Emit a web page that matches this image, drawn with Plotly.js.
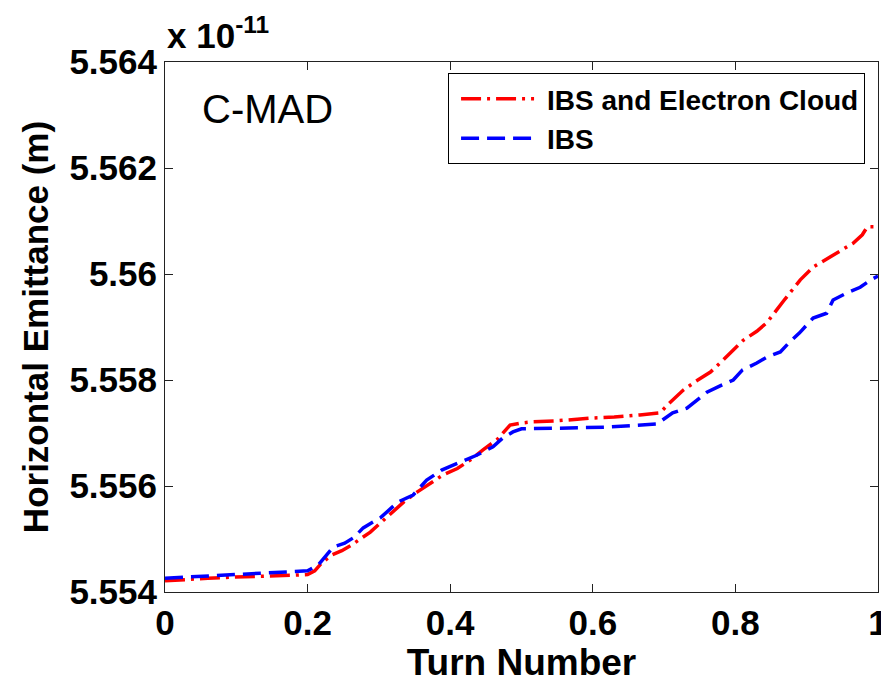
<!DOCTYPE html>
<html>
<head>
<meta charset="utf-8">
<script src="https://cdn.plot.ly/plotly-3.0.1.min.js"></script>
<style>html,body{margin:0;padding:0;background:#fff;}#chart{width:881px;height:687px;}</style>
</head>
<body>
<div id="chart"></div>
<script>
// Turn number (normalised) and horizontal emittance in units of 1e-11 m
const redName = "IBS and Electron Cloud";
const redX = [0, 0.03, 0.06, 0.094, 0.13, 0.16, 0.187, 0.2, 0.21, 0.22, 0.234, 0.248, 0.262, 0.276, 0.288, 0.302, 0.318, 0.335, 0.354, 0.376, 0.39, 0.41, 0.428, 0.446, 0.466, 0.484, 0.5, 0.516, 0.55, 0.596, 0.63, 0.666, 0.694, 0.708, 0.727, 0.745, 0.765, 0.783, 0.811, 0.83, 0.844, 0.868, 0.891, 0.909, 0.93, 0.95, 0.965, 0.978, 0.985, 1.0];
const redY = [5.55421, 5.55424, 5.55426, 5.55428, 5.55429, 5.55430, 5.55432, 5.55433, 5.55440, 5.55455, 5.55470, 5.55478, 5.55489, 5.55502, 5.55513, 5.55530, 5.55550, 5.55570, 5.55589, 5.55608, 5.55621, 5.55633, 5.55649, 5.55668, 5.55688, 5.55715, 5.55719, 5.55721, 5.55723, 5.55728, 5.55730, 5.55734, 5.55738, 5.55757, 5.55781, 5.55798, 5.55815, 5.55838, 5.55875, 5.55892, 5.55908, 5.55950, 5.55989, 5.56013, 5.56030, 5.56045, 5.56058, 5.56074, 5.56089, 5.56089];
const blueName = "IBS";
const blueX = [0, 0.03, 0.06, 0.094, 0.13, 0.16, 0.178, 0.2, 0.215, 0.229, 0.236, 0.252, 0.265, 0.278, 0.302, 0.327, 0.348, 0.367, 0.388, 0.414, 0.437, 0.46, 0.474, 0.488, 0.5, 0.55, 0.62, 0.69, 0.712, 0.732, 0.76, 0.78, 0.797, 0.81, 0.83, 0.844, 0.863, 0.875, 0.89, 0.909, 0.928, 0.937, 0.956, 0.975, 0.99, 1.0];
const blueY = [5.55426, 5.55428, 5.55430, 5.55432, 5.55434, 5.55436, 5.55438, 5.55440, 5.55451, 5.55475, 5.55485, 5.55492, 5.55503, 5.55521, 5.55540, 5.55570, 5.55583, 5.55611, 5.55630, 5.55645, 5.55658, 5.55674, 5.55691, 5.55702, 5.55708, 5.55709, 5.55711, 5.55717, 5.55738, 5.55747, 5.55777, 5.55790, 5.55800, 5.55819, 5.55832, 5.55843, 5.55853, 5.55870, 5.55889, 5.55917, 5.55926, 5.55951, 5.55964, 5.55975, 5.55989, 5.55996];
const xTickVals = [0, 0.2, 0.4, 0.6, 0.8, 1];
const xTickText = ["0", "0.2", "0.4", "0.6", "0.8", "1"];
const yTickVals = [5.554, 5.556, 5.558, 5.56, 5.562, 5.564];
const yTickText = ["5.554", "5.556", "5.558", "5.56", "5.562", "5.564"];
const xTitle = "Turn Number";
const yTitle = "Horizontal Emittance (m)";
const scaleLabel = "x 10<sup>-11</sup>";
const panelLabel = "C-MAD";

const FONT = "Liberation Sans, Arial, Helvetica, sans-serif";
const traces = [
  {x: redX, y: redY, name: redName, type: "scatter", mode: "lines",
   line: {color: "#ff0000", width: 3.5, dash: "20px,6px,3px,6px"}},
  {x: blueX, y: blueY, name: blueName, type: "scatter", mode: "lines",
   line: {color: "#0000ff", width: 3.5, dash: "18px,8px"}}
];
const axisCommon = {
  showline: true, linecolor: "#222", linewidth: 1, mirror: "ticks",
  ticks: "inside", ticklen: 8, tickwidth: 1, tickcolor: "#222",
  showgrid: false, zeroline: false, ticklabeloverflow: "allow",
  tickfont: {family: FONT, size: 35, weight: "bold", color: "#000"}
};
const layout = {
  width: 881, height: 687,
  margin: {l: 165, r: 3, t: 62, b: 95},
  paper_bgcolor: "#fff", plot_bgcolor: "#fff",
  showlegend: true,
  legend: {x: 0.397, y: 0.979, xanchor: "left", yanchor: "top", itemwidth: 88,
    bordercolor: "#000", borderwidth: 1, bgcolor: "#fff", tracegroupgap: 0,
    font: {family: FONT, size: 28, weight: "bold", color: "#000"}},
  xaxis: Object.assign({}, axisCommon, {range: [0, 1], tickvals: xTickVals, ticktext: xTickText,
    title: {text: xTitle, standoff: 8, font: {family: FONT, size: 37, weight: "bold", color: "#000"}}}),
  yaxis: Object.assign({}, axisCommon, {range: [5.554, 5.564], tickvals: yTickVals, ticktext: yTickText,
    title: {text: yTitle, standoff: 10, font: {family: FONT, size: 35, weight: "bold", color: "#000"}}}),
  annotations: [
    {xref: "paper", yref: "paper", x: 0, y: 1, xanchor: "left", yanchor: "bottom", yshift: 5,
     text: scaleLabel, showarrow: false, font: {family: FONT, size: 35, weight: "bold", color: "#000"}},
    {xref: "paper", yref: "paper", x: 0.049, y: 0.911, xanchor: "left", yanchor: "middle",
     text: panelLabel, showarrow: false, font: {family: FONT, size: 40, color: "#000"}}
  ]
};
Plotly.newPlot("chart", traces, layout, {displayModeBar: false, staticPlot: true}).then(function (gd) {
  // lengthen the legend sample lines to match the reference key
  gd.querySelectorAll(".legend .legendlines path").forEach(function (p) {
    p.setAttribute("d", "M12,0h73");
  });
});
</script>
</body>
</html>
